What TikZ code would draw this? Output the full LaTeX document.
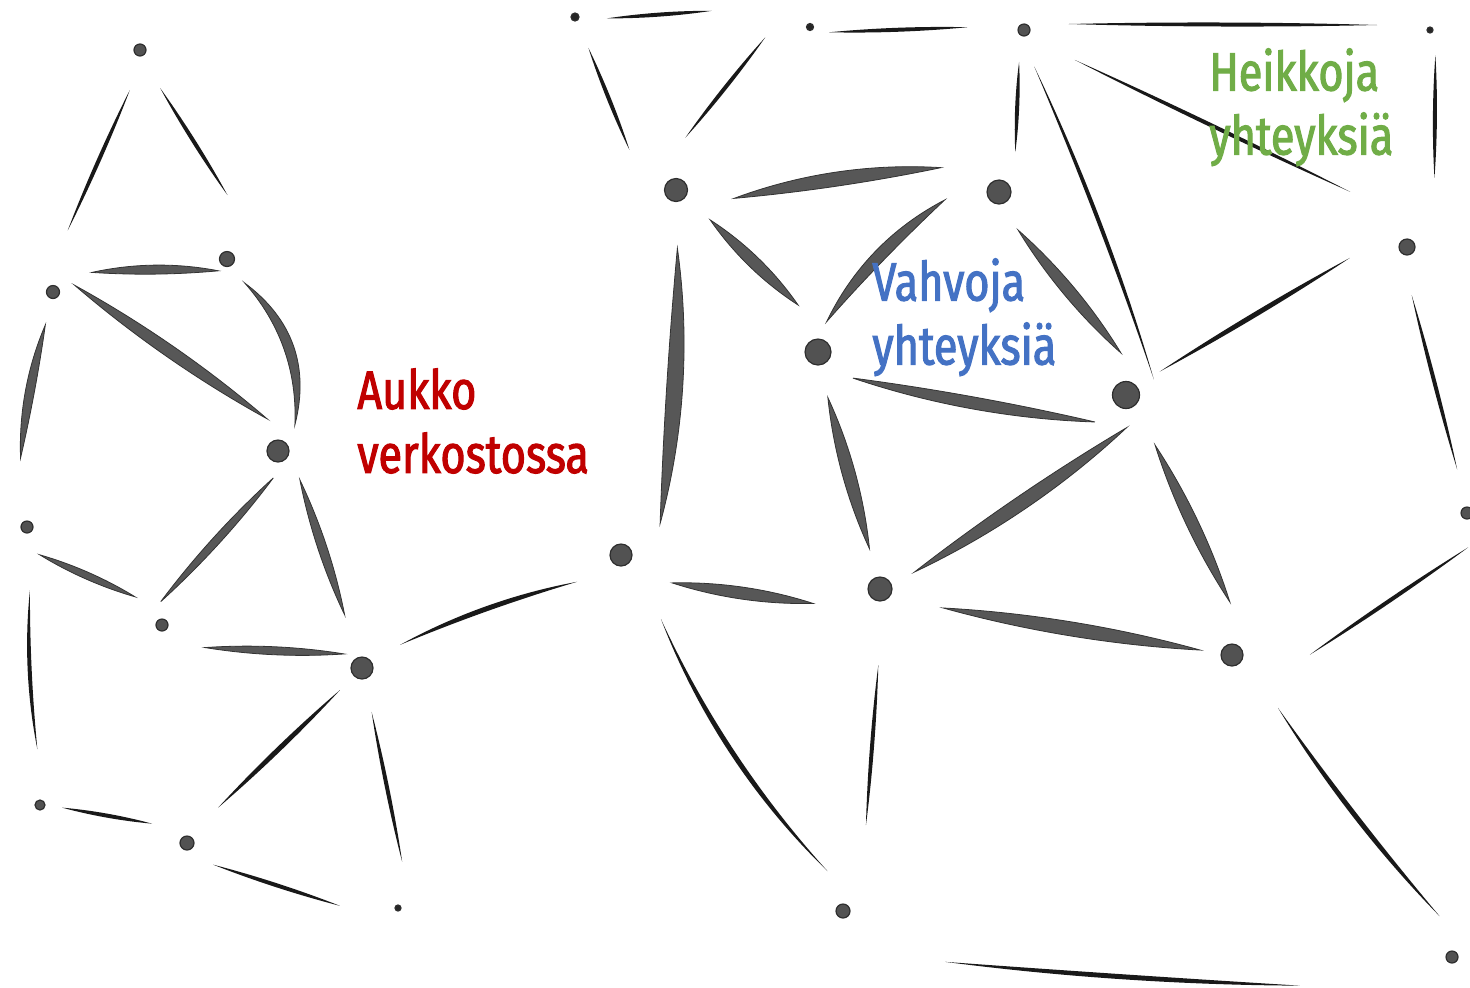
\documentclass[tikz,border=0pt]{standalone}
\usepackage{fontspec}
\setmainfont{Fira Sans}[FakeStretch=0.8, FakeBold=2]
\usetikzlibrary{calc}
\definecolor{gapred}{HTML}{C00000}
\definecolor{strongblue}{HTML}{4472C4}
\definecolor{weakgreen}{HTML}{70AD47}
\newcommand{\netlink}[9][strong]{%
  \pgfmathsetmacro\sa{0.5*#5}%
  \pgfmathsetmacro\sb{0.5*#7}%
  \pgfmathsetmacro\up{0.667*#9+0.333*#8}%
  \pgfmathsetmacro\dn{0.667*#9-0.333*#8}%
  \coordinate (p) at ($(#2)!#4!(#3)!\sa pt!90:(#3)$);
  \coordinate (q) at ($(#2)!#6!(#3)!\sb pt!90:(#3)$);
  \fill[#1] (p) .. controls ($(p)!0.33!(q)!\up pt!90:(q)$) and ($(p)!0.67!(q)!\up pt!90:(q)$) .. (q)
    .. controls ($(p)!0.67!(q)!\dn pt!90:(q)$) and ($(p)!0.33!(q)!\dn pt!90:(q)$) .. cycle;
}
\begin{document}
\begin{tikzpicture}[
  x=0.5pt, y=-0.5pt,
  hub/.style={circle, fill=black!68, draw=black!82, line width=0.6pt, inner sep=0pt, minimum size=11pt},
  strong/.style={fill=black!66, draw=black!80, line width=0.4pt},
  weak/.style={fill=black!90},
  tag/.style={font=\fontsize{27}{32}\selectfont, align=left, inner sep=0pt, anchor=north west}
]
\useasboundingbox (0,0) rectangle (1470,987);

\node[hub, minimum size=6pt] (a1) at (140,50) {};
\node[hub, minimum size=6.5pt] (a2) at (53,292) {};
\node[hub, minimum size=7.5pt] (a3) at (227,259) {};
\node[hub] (a4) at (278,451) {};
\node[hub, minimum size=6pt] (a5) at (27,527) {};
\node[hub, minimum size=6pt] (a6) at (162,625) {};
\node[hub] (a7) at (362,668) {};
\node[hub, minimum size=5pt] (a8) at (40,805) {};
\node[hub, minimum size=7pt] (a9) at (187,843) {};
\node[hub, fill=black!85, minimum size=3pt] (a10) at (398,908) {};

\node[hub, fill=black!85, minimum size=4pt] (b1) at (575,17) {};
\node[hub, fill=black!85, minimum size=3.5pt] (b2) at (810,27) {};
\node[hub, minimum size=6pt] (b3) at (1024,30) {};
\node[hub, fill=black!85, minimum size=3pt] (b4) at (1430,30) {};
\node[hub, minimum size=11.5pt] (b5) at (676,190) {};
\node[hub, minimum size=12pt] (b6) at (999,192) {};
\node[hub, minimum size=8pt] (b7) at (1407,247) {};
\node[hub, minimum size=13pt] (b8) at (818,352) {};
\node[hub, minimum size=13.5pt] (b9) at (1126,395) {};
\node[hub] (b10) at (621,555) {};
\node[hub, minimum size=12pt] (b11) at (880,589) {};
\node[hub] (b12) at (1232,655) {};
\node[hub, minimum size=6pt] (b13) at (1467,513) {};
\node[hub, minimum size=7pt] (b14) at (843,911) {};
\node[hub, minimum size=6pt] (b15) at (1452,957) {};

\netlink[weak]{a1}{a2}{0.16}{4}{0.755}{-7}{4}{0}
\netlink[weak]{a1}{a3}{0.19}{4}{0.74}{25}{4}{0}
\netlink{a2}{a3}{0.237}{12}{0.94}{-10}{9}{2}
\netlink{a2}{a4}{0.05}{18}{0.90}{20}{12}{0}
\netlink{a3}{a4}{0.14}{11}{0.895}{23}{10}{20}
\netlink{a2}{a5}{0.142}{-4}{0.713}{-14}{9}{-3}
\netlink{a4}{a6}{0.12}{11}{0.91}{-14}{8}{0}
\netlink{a4}{a7}{0.15}{10}{0.76}{3}{9}{0}
\netlink{a5}{a6}{0.16}{-15}{0.77}{7}{7}{0}
\netlink{a6}{a7}{0.229}{-13}{0.90}{10}{8}{0}
\netlink[weak]{a5}{a8}{0.227}{0}{0.80}{0}{4}{-4}
\netlink[weak]{a7}{a9}{0.126}{0}{0.81}{-3}{5}{0}
\netlink[weak]{a7}{a10}{0.185}{3}{0.815}{11}{4}{0}
\netlink[weak]{a8}{a9}{0.145}{3}{0.745}{10}{4}{0}
\netlink[weak]{a9}{a10}{0.142}{-13}{0.746}{-15}{4}{0}
\netlink[weak]{a7}{b10}{0.156}{6}{0.82}{-7}{5}{5}

\netlink[weak]{b1}{b2}{0.136}{0}{0.58}{12}{4}{0}
\netlink[weak]{b2}{b3}{0.09}{-5}{0.735}{2}{4}{0}
\netlink[weak]{b3}{b4}{0.11}{6}{0.87}{5}{4}{0}
\netlink[weak]{b1}{b5}{0.167}{-4}{0.71}{-20}{4}{0}
\netlink[weak]{b2}{b5}{0.172}{-28}{0.78}{-26}{4}{0}
\netlink[weak]{b3}{b6}{0.197}{0}{0.744}{10}{4}{0}
\netlink[weak]{b3}{b9}{0.10}{0}{0.98}{31}{4}{5}
\netlink[weak]{b3}{b7}{0.134}{-1}{0.826}{20}{4}{0}
\netlink[weak]{b4}{b7}{0.112}{8}{0.672}{20}{4}{0}
\netlink{b5}{b6}{0.18}{-8}{0.82}{24}{14}{4}
\netlink{b5}{b8}{0.209}{6}{0.775}{16}{12}{0}
\netlink{b5}{b10}{0.155}{10}{0.90}{34}{16}{6}
\netlink{b6}{b8}{0.19}{-30}{0.89}{-17}{12}{-8}
\netlink{b6}{b9}{0.177}{-4}{0.84}{18}{12}{0}
\netlink{b8}{b9}{0.123}{-21}{0.913}{-31}{12}{-3}
\netlink{b8}{b11}{0.19}{-2}{0.83}{0}{13}{0}
\netlink{b9}{b11}{0.063}{26}{0.88}{8}{14}{3}
\netlink{b9}{b12}{0.204}{8}{0.822}{18}{12}{0}
\netlink[weak]{b7}{b9}{0.175}{-17}{0.872}{-5}{5}{0}
\netlink{b10}{b11}{0.208}{-21}{0.753}{-23}{12}{0}
\netlink{b11}{b12}{0.183}{-7}{0.91}{-1}{14}{0}
\netlink[weak]{b7}{b13}{0.176}{-6}{0.837}{0}{4}{0}
\netlink[weak]{b13}{b12}{0.061}{30}{0.757}{40}{4}{0}
\netlink[weak]{b10}{b14}{0.18}{0}{0.90}{8}{5}{-14}
\netlink[weak]{b11}{b14}{0.234}{7}{0.729}{13}{4}{0}
\netlink[weak]{b12}{b15}{0.187}{6}{0.892}{14}{5}{-5}
\netlink[weak]{b14}{b15}{0.173}{-43}{0.755}{-40}{5}{-3}

\node[tag, text=gapred] (gaplabel) at (357,368) {Aukko\\verkostossa};
\node[tag, text=strongblue] (stronglabel) at (872,258) {Vahvoja\\yhteyksiä};
\node[tag, text=weakgreen] (weaklabel) at (1209,48) {Heikkoja\\yhteyksiä};
\end{tikzpicture}
\end{document}
